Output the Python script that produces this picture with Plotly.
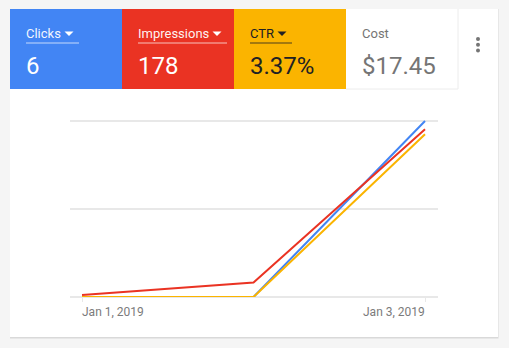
import plotly.graph_objects as go

# ---- data ----
dates = ["2019-01-01", "2019-01-02", "2019-01-03"]
clicks = [0, 0, 6]
impressions = [2, 14, 162]
ctr = [0.0, 0.0, 3.7]

metric_names = ["Clicks", "Impressions", "CTR", "Cost"]
metric_values = ["6", "178", "3.37%", "$17.45"]
tick_dates = ["2019-01-01", "2019-01-03"]
tick_labels = ["Jan 1, 2019", "Jan 3, 2019"]

W, H = 509, 348
BLUE = "#4285f4"
RED = "#ea3323"
YELLOW = "#fbb400"
GRID = "#e8e8e8"

def px(x):
    return x / W

def py(y):
    return 1 - y / H

# plot area: bottom grid at 297px, top grid (max value) at 121px; domain extended to 118px
Y_BOT, Y_TOP, Y_DOM_TOP = 297, 121, 118
ext = (Y_BOT - Y_DOM_TOP) / (Y_BOT - Y_TOP)

fig = go.Figure()
fig.add_trace(go.Scatter(x=dates, y=clicks, mode="lines", line=dict(color=BLUE, width=2), yaxis="y", hoverinfo="skip"))
fig.add_trace(go.Scatter(x=dates, y=ctr, mode="lines", line=dict(color=YELLOW, width=2), yaxis="y3", hoverinfo="skip"))
fig.add_trace(go.Scatter(x=dates, y=impressions, mode="lines", line=dict(color=RED, width=2), yaxis="y2", hoverinfo="skip"))

shapes = []
# card shadow + card
shapes.append(dict(type="rect", xref="paper", yref="paper", x0=px(10), x1=px(498.5), y0=py(338.5), y1=py(9),
                   fillcolor="#d9d9d9", line=dict(width=0), layer="below"))
shapes.append(dict(type="rect", xref="paper", yref="paper", x0=px(10), x1=px(498), y0=py(337), y1=py(9),
                   fillcolor="white", line=dict(width=0), layer="below"))
# tiles
tile_colors = [BLUE, RED, YELLOW, "white"]
tile_x = [10, 122, 234, 346]
for i, c in enumerate(tile_colors):
    shapes.append(dict(type="rect", xref="paper", yref="paper", x0=px(tile_x[i]), x1=px(tile_x[i] + 112),
                       y0=py(89), y1=py(9), fillcolor=c, line=dict(width=0), layer="below"))
# white tile border (right + bottom)
shapes.append(dict(type="line", xref="paper", yref="paper", x0=px(458), x1=px(458), y0=py(89), y1=py(9),
                   line=dict(color="#ececec", width=1), layer="below"))
shapes.append(dict(type="line", xref="paper", yref="paper", x0=px(346), x1=px(458), y0=py(89), y1=py(89),
                   line=dict(color="#ececec", width=1), layer="below"))

annotations = []
label_x = [26, 138, 250, 362]
label_colors = ["rgba(255,255,255,0.95)", "rgba(255,255,255,0.95)", "#202124", "#757575"]
value_colors = ["white", "white", "#202124", "#757575"]
underline_end = [79, 227, 292]
for i in range(4):
    annotations.append(dict(xref="paper", yref="paper", x=px(label_x[i] - 2), y=py(33), text=metric_names[i],
                            showarrow=False, xanchor="left", yanchor="middle",
                            font=dict(family="Roboto", size=13, color=label_colors[i])))
    annotations.append(dict(xref="paper", yref="paper", x=px(label_x[i] - 2), y=py(66), text=metric_values[i],
                            showarrow=False, xanchor="left", yanchor="middle",
                            font=dict(family="Roboto", size=24, color=value_colors[i])))
    if i < 3:
        e = underline_end[i]
        ulc = "rgba(255,255,255,0.7)" if i < 2 else "rgba(32,33,36,0.8)"
        shapes.append(dict(type="line", xref="paper", yref="paper", x0=px(label_x[i]), x1=px(e),
                           y0=py(43), y1=py(43), line=dict(color=ulc, width=1)))
        # dropdown triangle
        tx1 = e - 5.5
        tx0 = tx1 - 9
        tri = f"M {px(tx0)} {py(31.5)} L {px(tx1)} {py(31.5)} L {px((tx0 + tx1) / 2)} {py(36)} Z"
        tcol = "white" if i < 2 else "#202124"
        shapes.append(dict(type="path", xref="paper", yref="paper", path=tri, fillcolor=tcol, line=dict(width=0)))

# menu dots
for yy in [39, 44.7, 50.5]:
    shapes.append(dict(type="circle", xref="paper", yref="paper", x0=px(476), x1=px(480),
                       y0=py(yy + 2), y1=py(yy - 2), fillcolor="#757575", line=dict(width=0)))

# x tick labels
for d, t, anc in zip(tick_dates, tick_labels, ["left", "right"]):
    annotations.append(dict(xref="x", yref="paper", x=d, y=py(312), text=t, showarrow=False,
                            xanchor=anc, yanchor="middle", xshift=-2 if anc == "left" else 2,
                            font=dict(family="Roboto", size=12, color="#7b7b7b")))

dom = [py(Y_BOT), py(Y_DOM_TOP)]
fig.update_layout(
    width=W, height=H,
    margin=dict(l=0, r=0, t=0, b=0),
    paper_bgcolor="#f5f5f5",
    plot_bgcolor="rgba(0,0,0,0)",
    showlegend=False,
    shapes=shapes,
    annotations=annotations,
    xaxis=dict(domain=[px(70), px(438)], type="date",
               range=["2018-12-31 22:19", "2019-01-03 01:49"],
               showgrid=False, zeroline=False, showline=False,
               tickvals=tick_dates, ticktext=["", ""], ticks="outside", ticklen=4,
               tickcolor=GRID, tickwidth=1, fixedrange=True),
    yaxis=dict(domain=dom, range=[0, 6 * ext], tickvals=[0, 3, 6], showgrid=True, gridcolor=GRID, gridwidth=2,
               zeroline=True, zerolinecolor=GRID, zerolinewidth=2, showticklabels=False, ticks="",
               fixedrange=True),
    yaxis2=dict(domain=dom, range=[0, 170 * ext], overlaying="y", visible=False, fixedrange=True),
    yaxis3=dict(domain=dom, range=[0, 4 * ext], overlaying="y", visible=False, fixedrange=True),
)

fig.write_html("out.html", config={"displayModeBar": False})
